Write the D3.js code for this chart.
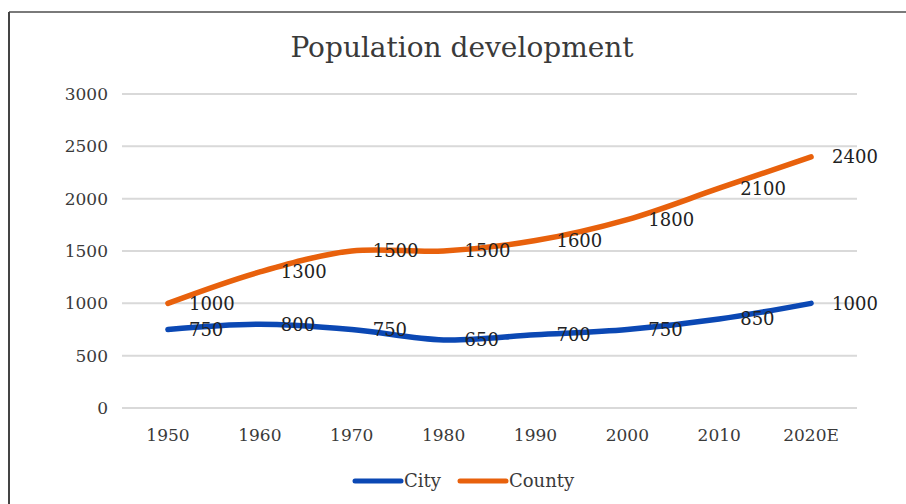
<!DOCTYPE html>
<html><head><meta charset="utf-8">
<script src="https://cdn.jsdelivr.net/npm/d3@7"></script>
<style>html,body{margin:0;padding:0;background:#fff;}svg{display:block;}</style>
</head><body><div id="chart"></div>
<script>
const categories = ["1950","1960","1970","1980","1990","2000","2010","2020E"];
const cityValues = [750, 800, 750, 650, 700, 750, 850, 1000];
const countyValues = [1000, 1300, 1500, 1500, 1600, 1800, 2100, 2400];
const yTicks = [0, 500, 1000, 1500, 2000, 2500, 3000];
const seriesNames = ["City", "County"];
const title = "Population development";

const W = 906, H = 504;
const font = "'DejaVu Serif', serif";
const svg = d3.select("#chart").append("svg").attr("width", W).attr("height", H);
svg.append("rect").attr("width", W).attr("height", H).attr("fill", "#fff");

// frame
svg.append("line").attr("x1", 9).attr("x2", W).attr("y1", 12).attr("y2", 12).attr("stroke", "#7a7a7a").attr("stroke-width", 2);
svg.append("line").attr("x1", 9).attr("x2", 9).attr("y1", 12).attr("y2", H).attr("stroke", "#444").attr("stroke-width", 2);

const x = d3.scaleBand().domain(categories).range([122, 857]);
const y = d3.scaleLinear().domain([0, 3000]).range([408, 94]);

// gridlines
svg.append("g").selectAll("line").data(yTicks).join("line")
  .attr("x1", 122).attr("x2", 857)
  .attr("y1", d => y(d)).attr("y2", d => y(d))
  .attr("stroke", "#d9d9d9").attr("stroke-width", 2);

// y axis labels
const yAxis = svg.append("g").attr("transform", "translate(112,0)")
  .call(d3.axisLeft(y).tickValues(yTicks).tickSize(0).tickPadding(4).tickFormat(d3.format("d")));
yAxis.select(".domain").remove();
yAxis.selectAll("text").attr("font-family", font).attr("font-size", 17).attr("fill", "#3a3a3a");

// x axis labels
const xAxis = svg.append("g").attr("transform", "translate(0,425)")
  .call(d3.axisBottom(x).tickSize(0).tickPadding(4));
xAxis.select(".domain").remove();
xAxis.selectAll("text").attr("font-family", font).attr("font-size", 17).attr("fill", "#3a3a3a");

// title
svg.append("text").attr("x", 462).attr("y", 57).attr("text-anchor", "middle")
  .attr("font-family", font).attr("font-size", 28).attr("fill", "#3a3a3a").text(title);

const cx = d => x(d) + x.bandwidth() / 2;
const line = d3.line().x(d => cx(d.c)).y(d => y(d.v)).curve(d3.curveCatmullRom.alpha(0.5));
const colors = ["#0b48b4", "#e8610c"];
const series = [cityValues, countyValues].map((vals, i) => ({
  name: seriesNames[i], color: colors[i],
  pts: categories.map((c, j) => ({ c, v: vals[j] }))
}));

series.forEach(s => {
  svg.append("path").attr("d", line(s.pts)).attr("fill", "none")
    .attr("stroke", s.color).attr("stroke-width", 5.5).attr("stroke-linecap", "round");
});
series.forEach(s => {
  svg.append("g").selectAll("text").data(s.pts).join("text")
    .attr("x", d => cx(d.c) + 21).attr("y", d => y(d.v)).attr("dy", "0.35em")
    .attr("font-family", font).attr("font-size", 18).attr("fill", "#222")
    .text(d => d.v);
});

// legend
const legend = svg.append("g");
const legendItems = [{ x: 355, s: series[0] }, { x: 460, s: series[1] }];
legendItems.forEach(it => {
  legend.append("line").attr("x1", it.x).attr("x2", it.x + 46).attr("y1", 481).attr("y2", 481)
    .attr("stroke", it.s.color).attr("stroke-width", 5).attr("stroke-linecap", "round");
  legend.append("text").attr("x", it.x + 49).attr("y", 481).attr("dy", "0.35em")
    .attr("font-family", font).attr("font-size", 18).attr("fill", "#3a3a3a").text(it.s.name);
});
</script></body></html>
